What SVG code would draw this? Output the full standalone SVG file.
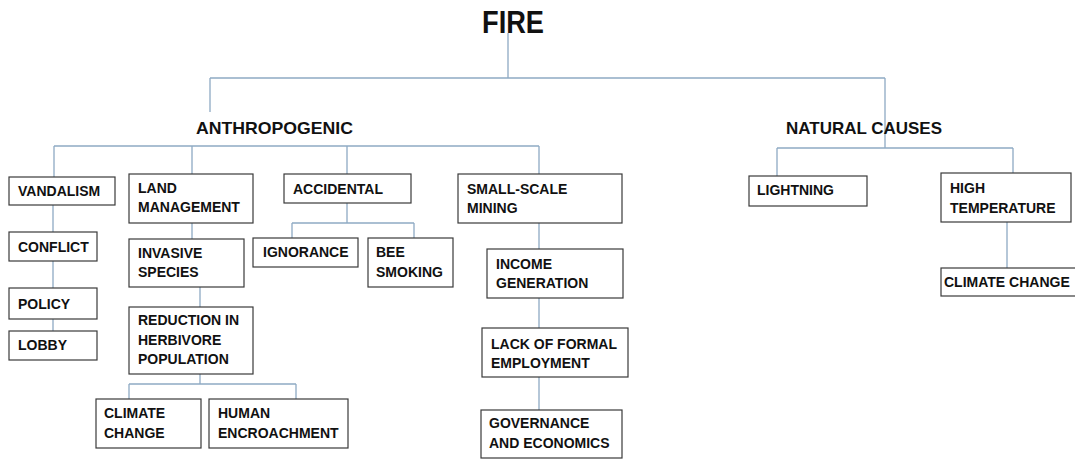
<svg xmlns="http://www.w3.org/2000/svg" width="1075" height="460" viewBox="0 0 1075 460">
<style>
.bg{fill:#ffffff}
.c{stroke:#8eaac4;stroke-width:1.3;fill:none}
.b{fill:#ffffff;stroke:#3a3a3a;stroke-width:1.2}
.t{font-family:"Liberation Sans",Arial,sans-serif;font-weight:bold;font-size:14px;fill:#111111}
.h{font-family:"Liberation Sans",Arial,sans-serif;font-weight:bold;font-size:17px;fill:#111111}
.ti{font-family:"Liberation Sans",Arial,sans-serif;font-weight:bold;font-size:32px;fill:#111111}
</style>
<rect class="bg" x="0" y="0" width="1075" height="460"/>
<g id="connectors">
<path class="c" d="M508 33V78M210 78H885M210 78V112M885 78V148"/>
<path class="c" d="M54 146H539M54 146V177M192 146V174M347 146V174M539 146V174"/>
<path class="c" d="M53 205V232M53 261V288M53 319V331"/>
<path class="c" d="M192 223V239M200 287V307M200 374V384M129 384H296M129 384V399M296 384V399"/>
<path class="c" d="M347 203V223M292 223H414M292 223V238M414 223V238"/>
<path class="c" d="M539 223V249M539 298V328M539 377V410"/>
<path class="c" d="M777 148H1013M777 148V176M1013 148V173M1007 222V268"/>
</g>
<g id="fire"><text class="ti" x="482" y="33" textLength="62" lengthAdjust="spacingAndGlyphs">FIRE</text></g>
<g id="anthropogenic"><text class="h" x="196" y="134" textLength="157" lengthAdjust="spacingAndGlyphs">ANTHROPOGENIC</text></g>
<g id="natural"><text class="h" x="786" y="134" textLength="156" lengthAdjust="spacingAndGlyphs">NATURAL CAUSES</text></g>
<g id="vandalism"><rect class="b" x="9" y="177" width="106" height="28"/><text class="t" x="18" y="196">VANDALISM</text></g>
<g id="conflict"><rect class="b" x="9" y="232" width="88" height="29"/><text class="t" x="18" y="252">CONFLICT</text></g>
<g id="policy"><rect class="b" x="9" y="288" width="88" height="31"/><text class="t" x="18" y="309">POLICY</text></g>
<g id="lobby"><rect class="b" x="9" y="331" width="88" height="29"/><text class="t" x="18" y="350">LOBBY</text></g>
<g id="land"><rect class="b" x="129" y="174" width="124" height="49"/><text class="t" x="138" y="193">LAND</text><text class="t" x="138" y="212">MANAGEMENT</text></g>
<g id="invasive"><rect class="b" x="129" y="239" width="115" height="48"/><text class="t" x="138" y="258">INVASIVE</text><text class="t" x="138" y="277">SPECIES</text></g>
<g id="reduction"><rect class="b" x="129" y="307" width="124" height="67"/><text class="t" x="138" y="325">REDUCTION IN</text><text class="t" x="138" y="345">HERBIVORE</text><text class="t" x="138" y="364">POPULATION</text></g>
<g id="climate1"><rect class="b" x="96" y="399" width="105" height="49"/><text class="t" x="104" y="418">CLIMATE</text><text class="t" x="104" y="438">CHANGE</text></g>
<g id="human"><rect class="b" x="209" y="399" width="139" height="49"/><text class="t" x="218" y="418">HUMAN</text><text class="t" x="218" y="438">ENCROACHMENT</text></g>
<g id="accidental"><rect class="b" x="284" y="174" width="127" height="29"/><text class="t" x="293" y="194">ACCIDENTAL</text></g>
<g id="ignorance"><rect class="b" x="253" y="238" width="105" height="29"/><text class="t" x="263" y="257">IGNORANCE</text></g>
<g id="bee"><rect class="b" x="368" y="238" width="85" height="49"/><text class="t" x="376" y="257">BEE</text><text class="t" x="376" y="277">SMOKING</text></g>
<g id="mining"><rect class="b" x="458" y="174" width="164" height="49"/><text class="t" x="467" y="194">SMALL-SCALE</text><text class="t" x="467" y="213">MINING</text></g>
<g id="income"><rect class="b" x="487" y="249" width="136" height="49"/><text class="t" x="496" y="269">INCOME</text><text class="t" x="496" y="288">GENERATION</text></g>
<g id="lack"><rect class="b" x="482" y="328" width="146" height="49"/><text class="t" x="491" y="349">LACK OF FORMAL</text><text class="t" x="491" y="368">EMPLOYMENT</text></g>
<g id="governance"><rect class="b" x="481" y="410" width="141" height="48"/><text class="t" x="489" y="428">GOVERNANCE</text><text class="t" x="489" y="448">AND ECONOMICS</text></g>
<g id="lightning"><rect class="b" x="749" y="176" width="118" height="30"/><text class="t" x="757" y="195">LIGHTNING</text></g>
<g id="hightemp"><rect class="b" x="941" y="173" width="130" height="49"/><text class="t" x="950" y="193">HIGH</text><text class="t" x="950" y="213">TEMPERATURE</text></g>
<g id="climate2"><rect class="b" x="941" y="268" width="145" height="28"/><text class="t" x="944" y="287">CLIMATE CHANGE</text></g>
</svg>
